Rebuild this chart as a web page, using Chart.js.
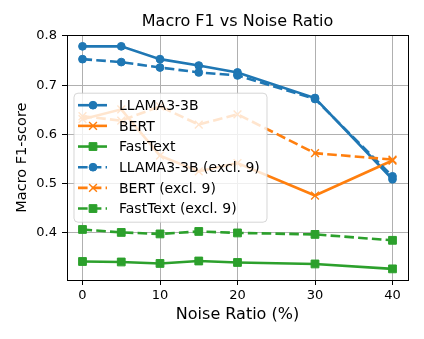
<!DOCTYPE html>
<html>
<head>
<meta charset="utf-8">
<script src="https://cdn.jsdelivr.net/npm/chart.js@4.4.1/dist/chart.umd.min.js"></script>
<style>
  html, body { margin: 0; padding: 0; background: #fff; }
  #wrap { width: 424px; height: 339px; }
</style>
</head>
<body>
<div id="wrap"><canvas id="chart" width="424" height="339"></canvas></div>
<script>
// data
var noiseRatio = [0, 5, 10, 15, 20, 30, 40]
var llama = [0.779, 0.779, 0.753, 0.740, 0.726, 0.674, 0.509]
var bert = [0.631, 0.651, 0.557, 0.525, 0.542, 0.476, 0.547]
var fastText = [0.342, 0.341, 0.338, 0.343, 0.340, 0.337, 0.327]
var llamaExcl = [0.753, 0.747, 0.736, 0.726, 0.720, 0.672, 0.515]
var bertExcl = [0.637, 0.628, 0.657, 0.620, 0.641, 0.562, 0.549]
var fastTextExcl = [0.407, 0.401, 0.398, 0.403, 0.400, 0.397, 0.385]
var xTicks = [0, 10, 20, 30, 40]
var yTicks = [0.4, 0.5, 0.6, 0.7, 0.8]

var FONT = 'DejaVu Sans'
var BLUE = '#1f77b4', ORANGE = '#ff7f0e', GREEN = '#2ca02c'
var DASH = [9.6, 4.2]

function pts(ys) {
    return ys.map(function (y, i) { return { x: noiseRatio[i], y: y } })
}

function series(label, ys, color, marker, dashed) {
    var r = marker === 'circle' ? 3.9 : 5.5
    return {
        label: label,
        data: pts(ys),
        borderColor: color,
        backgroundColor: color,
        borderWidth: 2.6,
        borderDash: dashed ? DASH : [],
        pointStyle: marker,
        pointRadius: r,
        pointHoverRadius: r,
        pointBackgroundColor: color,
        pointBorderColor: color,
        pointBorderWidth: marker === 'crossRot' ? 1.4 : 1,
        tension: 0,
        fill: false
    }
}

var datasets = [
    series('LLAMA3-3B', llama, BLUE, 'circle', false),
    series('BERT', bert, ORANGE, 'crossRot', false),
    series('FastText', fastText, GREEN, 'rect', false),
    series('LLAMA3-3B (excl. 9)', llamaExcl, BLUE, 'circle', true),
    series('BERT (excl. 9)', bertExcl, ORANGE, 'crossRot', true),
    series('FastText (excl. 9)', fastTextExcl, GREEN, 'rect', true)
]
// later series on top, like matplotlib
datasets.forEach(function (d, i) { d.order = datasets.length - i })

// matplotlib-like 5% margins
var allY = [].concat(llama, bert, fastText, llamaExcl, bertExcl, fastTextExcl)
var yMin = Math.min.apply(null, allY), yMax = Math.max.apply(null, allY)
var yPad = (yMax - yMin) * 0.05
var xPad = (noiseRatio[noiseRatio.length - 1] - noiseRatio[0]) * 0.05

function drawMarker(ctx, style, x, y, r, color) {
    ctx.save()
    ctx.setLineDash([])
    ctx.fillStyle = color
    ctx.strokeStyle = color
    ctx.beginPath()
    if (style === 'circle') {
        ctx.lineWidth = 1
        ctx.arc(x, y, r, 0, Math.PI * 2)
        ctx.fill()
        ctx.stroke()
    } else if (style === 'rect') {
        var s = r * Math.SQRT1_2
        ctx.lineWidth = 1
        ctx.rect(x - s, y - s, 2 * s, 2 * s)
        ctx.fill()
        ctx.stroke()
    } else {
        var o = r * Math.SQRT1_2
        ctx.lineWidth = 1.4
        ctx.moveTo(x - o, y - o); ctx.lineTo(x + o, y + o)
        ctx.moveTo(x - o, y + o); ctx.lineTo(x + o, y - o)
        ctx.stroke()
    }
    ctx.restore()
}

var framePlugin = {
    id: 'frameAndLegend',
    afterDatasetsDraw: function (chart) {
        var ctx = chart.ctx, a = chart.chartArea
        ctx.save()
        // axes box
        ctx.strokeStyle = '#000'
        ctx.lineWidth = 1
        ctx.strokeRect(Math.round(a.left) + 0.5, Math.round(a.top) + 0.5,
            Math.round(a.right - a.left), Math.round(a.bottom - a.top))

        // legend box
        var bx = a.left + 7, by = a.top + 58, bw = 193, bh = 129, rad = 4
        ctx.beginPath()
        ctx.moveTo(bx + rad, by)
        ctx.arcTo(bx + bw, by, bx + bw, by + bh, rad)
        ctx.arcTo(bx + bw, by + bh, bx, by + bh, rad)
        ctx.arcTo(bx, by + bh, bx, by, rad)
        ctx.arcTo(bx, by, bx + bw, by, rad)
        ctx.closePath()
        ctx.fillStyle = 'rgba(255,255,255,0.8)'
        ctx.fill()
        ctx.strokeStyle = 'rgba(204,204,204,0.8)'
        ctx.lineWidth = 1
        ctx.stroke()

        ctx.font = '14px "' + FONT + '"'
        ctx.textBaseline = 'middle'
        ctx.textAlign = 'left'
        chart.data.datasets.forEach(function (d, i) {
            var cy = by + 12 + i * 20.67
            ctx.beginPath()
            ctx.setLineDash(d.borderDash)
            ctx.strokeStyle = d.borderColor
            ctx.lineWidth = d.borderWidth
            ctx.moveTo(bx + 4, cy)
            ctx.lineTo(bx + 33, cy)
            ctx.stroke()
            ctx.setLineDash([])
            drawMarker(ctx, d.pointStyle, bx + 19, cy, d.pointRadius, d.borderColor)
            ctx.fillStyle = '#000'
            ctx.fillText(d.label, bx + 45, cy + 1)
        })
        ctx.restore()
    }
}

var ctx = document.getElementById('chart')
var myChart = new Chart(ctx, {
    type: 'line',
    data: { datasets: datasets },
    options: {
        responsive: false,
        animation: false,
        layout: { padding: { left: 0, right: 16, top: 0, bottom: 0 } },
        plugins: {
            legend: { display: false },
            tooltip: { enabled: false },
            title: {
                display: true,
                text: 'Macro F1 vs Noise Ratio',
                fullSize: false,
                color: '#000',
                font: { family: FONT, size: 16, weight: 'normal' },
                padding: { top: 12, bottom: 4 }
            }
        },
        scales: {
            x: {
                type: 'linear',
                min: noiseRatio[0] - xPad,
                max: noiseRatio[noiseRatio.length - 1] + xPad,
                afterBuildTicks: function (s) { s.ticks = xTicks.map(function (v) { return { value: v } }) },
                afterFit: function (s) { s.height = 59 },
                grid: { color: '#b0b0b0', lineWidth: 1, tickLength: 5, tickColor: '#000' },
                border: { display: true, color: '#000', width: 1 },
                ticks: { color: '#000', padding: 3, maxRotation: 0, font: { family: FONT, size: 13 } },
                title: {
                    display: true, text: 'Noise Ratio (%)', color: '#000',
                    font: { family: FONT, size: 16 }, padding: { top: 15, bottom: 15 }
                }
            },
            y: {
                type: 'linear',
                min: yMin - yPad,
                max: yMax + yPad,
                afterBuildTicks: function (s) { s.ticks = yTicks.map(function (v) { return { value: v } }) },
                afterFit: function (s) { s.width = 67 },
                grid: { color: '#b0b0b0', lineWidth: 1, tickLength: 5, tickColor: '#000' },
                border: { display: true, color: '#000', width: 1 },
                ticks: {
                    color: '#000', padding: 5, font: { family: FONT, size: 13 },
                    callback: function (v) { return v.toFixed(1) }
                },
                title: {
                    display: true, text: 'Macro F1-score', color: '#000',
                    font: { family: FONT, size: 14.5 }, padding: { top: 14, bottom: 14 }
                }
            }
        }
    },
    plugins: [framePlugin]
})
</script>
</body>
</html>
